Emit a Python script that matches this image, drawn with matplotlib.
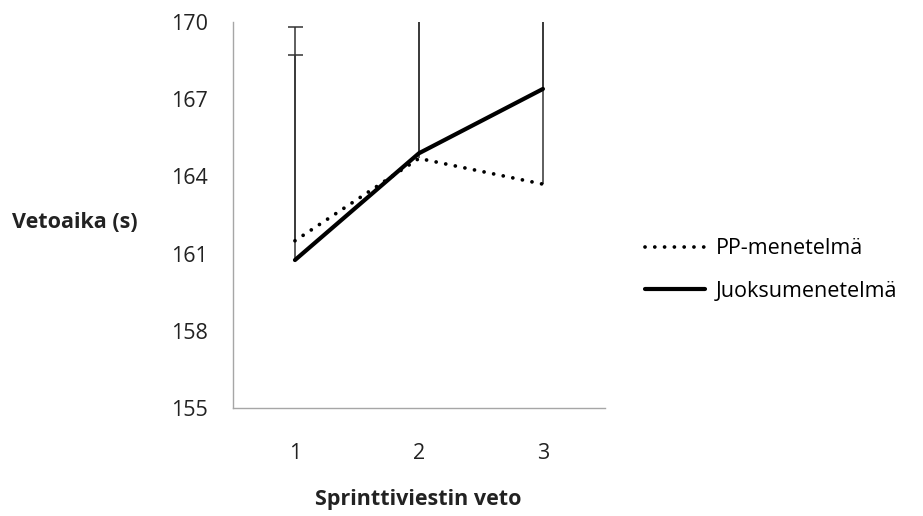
import matplotlib.pyplot as plt

plt.rcParams['font.family'] = ['Open Sans', 'DejaVu Sans']

# data
veto = [1, 2, 3]
pp_menetelma = [161.5, 164.7, 163.7]
juoksu = [160.75, 164.9, 167.4]
pp_err = [7.2, 7.0, 8.0]
juoksu_err = [9.05, 6.0, 4.0]

FS = 15.5

fig = plt.figure(figsize=(9.23, 5.16), dpi=100)
ax = fig.add_axes([0.2524, 0.2093, 0.403, 0.748])

# error bars, upper side only: line + cap at the top end
for vals, errs in [(pp_menetelma, pp_err), (juoksu, juoksu_err)]:
    tops = [v + e for v, e in zip(vals, errs)]
    ax.vlines(veto, vals, tops, color='#333333', lw=1.1)
    ax.plot(veto, tops, linestyle='none', marker='_', markersize=10.8,
            markeredgewidth=1.1, color='#333333')

ax.plot(veto, pp_menetelma, color='black', lw=2.7, linestyle=(0, (0.01, 2.6)),
        dash_capstyle='round', label='PP-menetelmä')
ax.plot(veto, juoksu, color='black', lw=3.0, solid_capstyle='round',
        label='Juoksumenetelmä')

ax.set_xlim(0.5, 3.5)
ax.set_ylim(155, 170)
ax.set_xticks(veto)
ax.set_yticks(range(155, 171, 3))

for s in ['top', 'right']:
    ax.spines[s].set_visible(False)
for s in ['left', 'bottom']:
    ax.spines[s].set_color('#a6a6a6')
    ax.spines[s].set_linewidth(1.0)

ax.tick_params(axis='y', length=0, pad=18, labelsize=FS, colors='#222222')
ax.tick_params(axis='x', length=0, pad=25, labelsize=FS, colors='#222222')

fig.text(12 / 923, 1 - 222 / 516, 'Vetoaika (s)', ha='left', va='center',
         fontsize=FS, fontweight='bold', color='#222222')
fig.text(418 / 923, 1 - 500 / 516, 'Sprinttiviestin veto', ha='center',
         va='center', fontsize=FS, fontweight='bold', color='#222222')

fig.legend(loc='center left', bbox_to_anchor=(645 / 923, 1 - 270 / 516),
           frameon=False, fontsize=FS, handlelength=2.8, handletextpad=0.5,
           labelspacing=1.0, borderpad=0, borderaxespad=0)

fig.savefig('out.png', dpi=100)
